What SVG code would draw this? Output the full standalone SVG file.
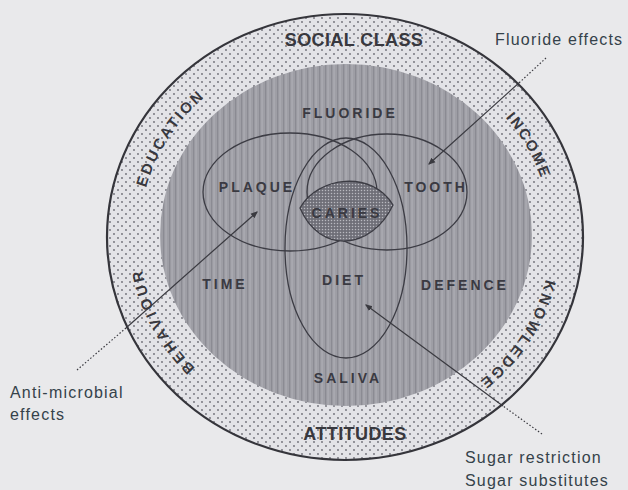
<svg xmlns="http://www.w3.org/2000/svg" width="628" height="490" viewBox="0 0 628 490">
  <style>
    .lbl { font-family: "Liberation Sans", Arial, sans-serif; font-weight: bold; font-size: 14px; fill: #3a3a42; letter-spacing: 3px; text-anchor: middle; }
    .big { font-family: "Liberation Sans", Arial, sans-serif; font-weight: bold; font-size: 18px; fill: #38383e; letter-spacing: 0.4px; text-anchor: middle; }
    .ring { font-family: "Liberation Sans", Arial, sans-serif; font-weight: bold; font-size: 15px; fill: #38383e; }
    .note { font-family: "Liberation Sans", Arial, sans-serif; font-size: 16px; fill: #35424a; letter-spacing: 1.2px; }
    .venn { fill: none; stroke: #3c3c44; stroke-width: 1.3; }
    .lead { fill: none; stroke: #3a3a40; stroke-width: 1.2; }
    .dot { stroke-dasharray: 1.5 2; }
  </style>
  <defs>
    <pattern id="dots" patternUnits="userSpaceOnUse" width="8" height="8">
      <rect width="8" height="8" fill="#e3e3e7"/>
      <circle cx="2" cy="2" r="0.9" fill="#6c6c74"/>
      <circle cx="6" cy="6" r="0.9" fill="#6c6c74"/>
    </pattern>
    <pattern id="streak" patternUnits="userSpaceOnUse" width="6" height="10">
      <rect width="6" height="10" fill="#9e9ea5"/>
      <rect x="1" width="1.2" height="10" fill="#8b8b93"/>
      <rect x="3.6" width="0.9" height="10" fill="#b3b3b9"/>
    </pattern>
    <pattern id="hatch" patternUnits="userSpaceOnUse" width="3" height="3">
      <rect width="3" height="3" fill="#6f6f78"/>
      <circle cx="1.5" cy="1.5" r="0.75" fill="#b9b9c0"/>
    </pattern>
    <marker id="arr" viewBox="0 0 6 6" refX="5" refY="3" markerWidth="6" markerHeight="6" orient="auto">
      <path d="M0,0.5 L6,3 L0,5.5 z" fill="#3a3a40"/>
    </marker>
    <path id="pEdu" d="M140.1,217 A206,191 0 0,1 229.8,78.6"/>
    <path id="pInc" d="M482.8,95.1 A206,191 0 0,1 549,210.4"/>
    <path id="pKno" d="M551,237 A206,191 0 0,1 441.7,405.6"/>
    <path id="pBeh" d="M229.8,395.3 A206,191 0 0,1 139.5,223.7"/>
  </defs>

  <rect width="628" height="490" fill="#e9e9eb"/>

  <g id="outer-ring">
    <ellipse cx="345" cy="237" rx="238" ry="223" fill="url(#dots)" stroke="#35353b" stroke-width="2.2"/>
    <text class="big" x="354" y="46">SOCIAL CLASS</text>
    <text class="big" x="355" y="440">ATTITUDES</text>
  </g>
  <g id="education"><text class="ring" letter-spacing="2.5"><textPath href="#pEdu" startOffset="50%" text-anchor="middle">EDUCATION</textPath></text></g>
  <g id="income"><text class="ring" letter-spacing="2"><textPath href="#pInc" startOffset="50%" text-anchor="middle">INCOME</textPath></text></g>
  <g id="knowledge"><text class="ring" letter-spacing="3"><textPath href="#pKno" startOffset="50%" text-anchor="middle">KNOWLEDGE</textPath></text></g>
  <g id="behaviour"><text class="ring" letter-spacing="3"><textPath href="#pBeh" startOffset="50%" text-anchor="middle">BEHAVIOUR</textPath></text></g>

  <g id="inner-disc">
    <ellipse cx="346" cy="235" rx="186" ry="171" fill="url(#streak)"/>
    <text class="lbl" x="350" y="118" font-size="15">FLUORIDE</text>
    <text class="lbl" x="225" y="289">TIME</text>
    <text class="lbl" x="465" y="290">DEFENCE</text>
    <text class="lbl" x="348" y="383">SALIVA</text>
  </g>

  <g id="plaque">
    <ellipse class="venn" cx="290" cy="192" rx="87" ry="59"/>
    <text class="lbl" x="257" y="192">PLAQUE</text>
  </g>
  <g id="tooth">
    <ellipse class="venn" cx="387" cy="192" rx="80" ry="58"/>
    <text class="lbl" x="436" y="192">TOOTH</text>
  </g>
  <g id="diet">
    <ellipse class="venn" cx="346" cy="248" rx="61" ry="110"/>
    <text class="lbl" x="344" y="285">DIET</text>
  </g>
  <g id="caries">
    <path d="M300,208 C318,176 372,170 393,205 C372,250 320,255 300,208 Z" fill="url(#hatch)" stroke="#3c3c44" stroke-width="1.3"/>
    <text class="lbl" x="347" y="218">CARIES</text>
  </g>

  <g id="notes">
    <text class="note" x="495" y="45">Fluoride effects</text>
    <text class="note" x="10" y="398">Anti-microbial</text>
    <text class="note" x="10" y="420">effects</text>
    <text class="note" x="465" y="463">Sugar restriction</text>
    <text class="note" x="465" y="486">Sugar substitutes</text>
  </g>

  <g id="connectors">
    <path class="lead dot" d="M546,58 L520,82"/>
    <path class="lead" d="M520,82 L429,164" marker-end="url(#arr)"/>
    <path class="lead dot" d="M77,370 L126,328"/>
    <path class="lead" d="M126,328 L257,212" marker-end="url(#arr)"/>
    <path class="lead dot" d="M542,434 L503,406"/>
    <path class="lead" d="M503,406 L366,305" marker-end="url(#arr)"/>
  </g>
</svg>
